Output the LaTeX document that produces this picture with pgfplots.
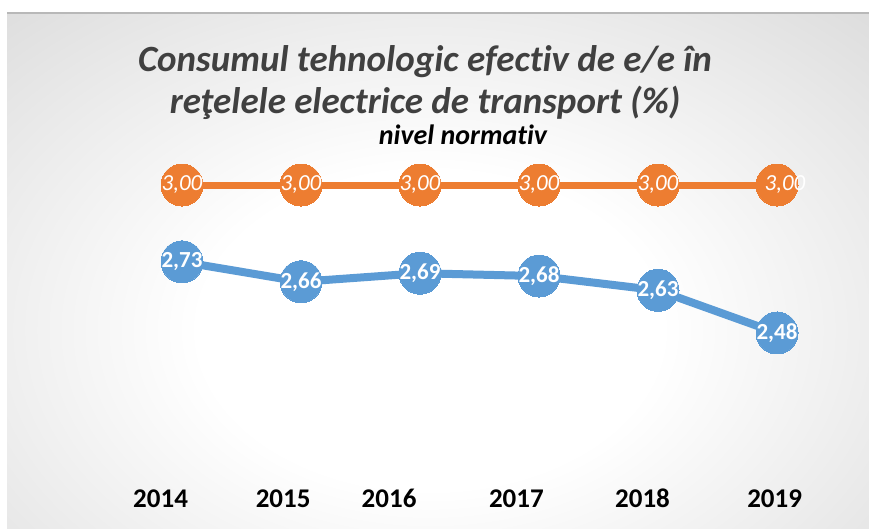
\documentclass[border=0pt]{standalone}
\usepackage{pgfplots}
\pgfplotsset{compat=1.18}
\usepackage{fontspec}
\setmainfont{Carlito}[Ligatures=NoCommon]
\definecolor{orangeS}{HTML}{ED7D31}
\definecolor{blueS}{HTML}{5B9BD5}
\definecolor{titlec}{HTML}{404040}
\pgfdeclareradialshading{bgshade}{\pgfpoint{0bp}{0bp}}{color(0bp)=(white); color(12bp)=(white); color(44bp)=(black!20); color(66bp)=(black!26); color(80bp)=(black!28)}
\begin{document}
\begin{tikzpicture}
\useasboundingbox (0,0) rectangle (869pt,529pt);
\fill[white] (0,0) rectangle (869pt,529pt);
\begin{scope}
\clip (7pt,0pt) rectangle (869pt,516pt);
\shade[shading=bgshade] (-50pt,-131pt) rectangle (910pt,529pt);
\end{scope}
\draw[black!28, line width=1.2pt] (7pt,516pt) -- (869pt,516pt);
\node[font=\fontsize{37}{42}\selectfont\bfseries\itshape, text=titlec, align=center] at (425pt,467pt) {Consumul tehnologic efectiv de e/e în};
\node[font=\fontsize{37}{42}\selectfont\bfseries\itshape, text=titlec, align=center] at (425pt,426pt) {reţelele electrice de transport (\%)};
\node[font=\fontsize{28}{32}\selectfont\bfseries\itshape, text=black] at (463pt,394pt) {nivel normativ};
\begin{axis}[
  at={(7pt,0pt)}, anchor=south west,
  scale only axis, width=862pt, height=516pt,
  xmin=-1.4706, xmax=5.7731, ymin=1.7913, ymax=3.6044,
  axis line style={draw=none}, major tick length=0pt,
  ytick=\empty,
  xtick={-0.18,0.85,1.74,2.81,3.87,4.98},
  xticklabels={2014,2015,2016,2017,2018,2019},
  xticklabel style={anchor=base, yshift=21pt, inner sep=0pt, font=\fontsize{27}{30}\selectfont\bfseries, text=black},
  clip=false,
  nodes near coords,
  point meta=explicit symbolic,
]
\addplot[orangeS, line width=7pt, mark=*, mark size=21pt,
  mark options={draw=none, fill=orangeS, line width=0pt},
  visualization depends on={x \as \xv},
  every node near coord/.style={anchor=center, text=white, font=\fontsize{23}{26}\selectfont\itshape, xshift={(\xv>4.5)*8}}]
  coordinates {(0,3.00)[3,00] (1,3.00)[3,00] (2,3.00)[3,00] (3,3.00)[3,00] (4,3.00)[3,00] (5,3.00)[3,00]};
\addplot[blueS, line width=8pt, mark=*, mark size=21pt,
  mark options={draw=none, fill=blueS, line width=0pt},
  every node near coord/.style={anchor=center, text=white, font=\fontsize{23}{26}\selectfont\bfseries}]
  coordinates {(0,2.73)[2,73] (1,2.66)[2,66] (2,2.69)[2,69] (3,2.68)[2,68] (4,2.63)[2,63] (5,2.48)[2,48]};
\end{axis}
\end{tikzpicture}
\end{document}
